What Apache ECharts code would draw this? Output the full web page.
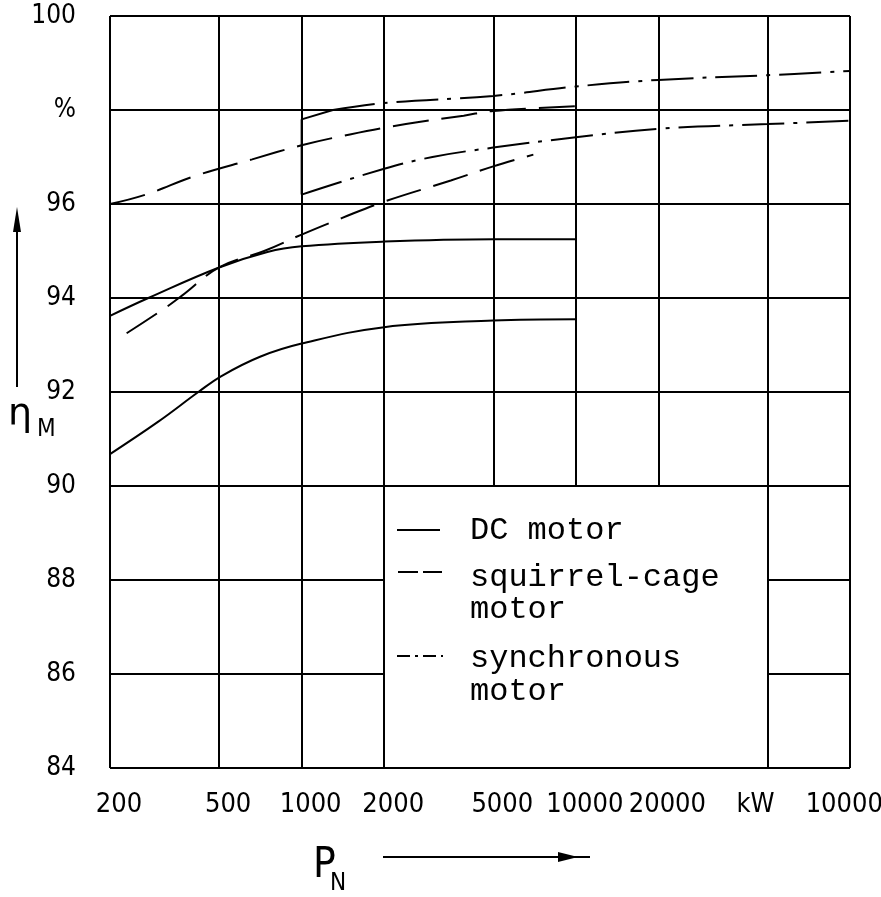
<!DOCTYPE html>
<html>
<head>
<meta charset="utf-8">
<script src="https://cdn.jsdelivr.net/npm/echarts@6/dist/echarts.min.js"></script>
<style>
html,body{margin:0;padding:0;background:#fff;}
#chart{width:881px;height:897px;}
</style>
</head>
<body>
<div id="chart"></div>
<script>
// ---- axes ----
const kWTicks = [200, 500, 1000, 2000, 5000, 10000, 20000, 50000, 100000];
const kWTickLabels = ['200', '500', '1000', '2000', '5000', '10000', '20000', 'kW', '100000'];
const etaTicks = [84, 86, 88, 90, 92, 94, 96, 98, 100];
const etaTickLabels = ['84', '86', '88', '90', '92', '94', '96', '%', '100'];
// region of the plot left free of grid lines for the legend
const legendBoxKW = [2000, 50000];
const legendBoxEta = [84, 90];

// ---- DC motor (solid), upper and lower bound ----
const dcUpperKW  = [200, 276, 500, 750, 1000, 2000, 5000, 10000];
const dcUpperEta = [93.62, 94.0, 94.65, 94.98, 95.1, 95.2, 95.25, 95.25];
const dcLowerKW  = [200, 300, 420, 510, 705, 1000, 2000, 5000, 10000];
const dcLowerEta = [90.68, 91.37, 92.0, 92.34, 92.75, 93.03, 93.38, 93.52, 93.55];

// ---- squirrel-cage motor (dashed) ----
const scUpperKW  = [200, 270, 410, 660, 1000, 1500, 2400, 3900, 5000, 10000];
const scUpperEta = [96.0, 96.2, 96.6, 96.95, 97.25, 97.48, 97.7, 97.88, 97.98, 98.08];
const scLowerKW  = [230, 320, 366, 500, 730, 1000, 1400, 2000, 3500, 5000, 7000];
const scLowerEta = [93.25, 93.8, 94.05, 94.65, 95.0, 95.35, 95.7, 96.05, 96.5, 96.8, 97.05];

// ---- synchronous motor (dash-dot) ----
const smStartKW  = [1000, 1000, 1300];
const smStartEta = [96.2, 97.8, 98.0];
const smUpperKW  = [1300, 2000, 5000, 10000, 20000, 50000, 100000];
const smUpperEta = [98.0, 98.15, 98.3, 98.5, 98.64, 98.74, 98.83];
const smLowerKW  = [1000, 2000, 3000, 5000, 10000, 20000, 50000, 100000];
const smLowerEta = [96.2, 96.75, 97.0, 97.2, 97.42, 97.6, 97.7, 97.77];

const zip = (xs, ys) => xs.map((x, i) => [x, ys[i]]);
const kWMin = kWTicks[0], kWMax = kWTicks[kWTicks.length - 1];
const etaMin = etaTicks[0], etaMax = etaTicks[etaTicks.length - 1];

const numFont = "'Liberation Sans Narrow', 'DejaVu Sans Condensed', 'Liberation Sans', sans-serif";
const monoFont = "'Liberation Mono', 'DejaVu Sans Mono', monospace";
const SOLID = 'solid';
const DASH = [36, 13];
const DASHDOT = [42, 9, 4, 9];

// grid line segments
const gridSegs = [];
kWTicks.forEach(x => {
  const inBox = x > legendBoxKW[0] && x < legendBoxKW[1];
  gridSegs.push([{ coord: [x, inBox ? legendBoxEta[1] : etaMin] }, { coord: [x, etaMax] }]);
});
etaTicks.forEach(y => {
  if (y > legendBoxEta[0] && y < legendBoxEta[1]) {
    gridSegs.push([{ coord: [kWMin, y] }, { coord: [legendBoxKW[0], y] }]);
    gridSegs.push([{ coord: [legendBoxKW[1], y] }, { coord: [kWMax, y] }]);
  } else {
    gridSegs.push([{ coord: [kWMin, y] }, { coord: [kWMax, y] }]);
  }
});

const labelOffsets = { 'kW': [-12, 0], '100000': [2, 0] };
const tickPoints = kWTicks.map((x, i) => ({
  coord: [x, etaMin],
  name: kWTickLabels[i],
  label: { offset: labelOffsets[kWTickLabels[i]] || [9, 0] }
}));

function curve(name, xs, ys, type, smooth) {
  return {
    name: name, type: 'line', data: zip(xs, ys),
    showSymbol: false, symbol: 'none',
    smooth: smooth === false ? false : 0.4,
    lineStyle: { color: '#000', width: 2, type: type },
    z: 3, animation: false, silent: true
  };
}

const chart = echarts.init(document.getElementById('chart'), null, { renderer: 'canvas' });
chart.setOption({
  backgroundColor: '#fff',
  animation: false,
  grid: { left: 110, right: 31, top: 16, bottom: 129 },
  xAxis: {
    type: 'log', logBase: 10, min: kWMin, max: kWMax,
    axisLine: { show: false }, axisTick: { show: false },
    axisLabel: { show: false }, splitLine: { show: false }
  },
  yAxis: {
    type: 'value', min: etaMin, max: etaMax, interval: 2,
    axisLine: { show: false }, axisTick: { show: false },
    splitLine: { show: false },
    axisLabel: {
      margin: 34, color: '#000', fontSize: 26, fontFamily: numFont,
      formatter: v => etaTickLabels[etaTicks.indexOf(v)]
    }
  },
  series: [
    {
      name: 'grid', type: 'line', data: [], silent: true, animation: false,
      markLine: {
        silent: true, animation: false, symbol: ['none', 'none'],
        label: { show: false },
        lineStyle: { color: '#000', width: 2, type: 'solid' },
        emphasis: { disabled: true },
        data: gridSegs
      },
      markPoint: {
        silent: true, animation: false, symbol: 'circle', symbolSize: 0,
        itemStyle: { color: 'rgba(0,0,0,0)' },
        label: {
          show: true, position: 'bottom', distance: 23, formatter: '{b}',
          color: '#000', fontSize: 27, fontFamily: numFont
        },
        data: tickPoints
      }
    },
    curve('DC motor', dcUpperKW, dcUpperEta, SOLID),
    curve('DC motor', dcLowerKW, dcLowerEta, SOLID),
    curve('squirrel-cage motor', scUpperKW, scUpperEta, DASH),
    curve('squirrel-cage motor', scLowerKW, scLowerEta, DASH),
    curve('synchronous motor', smStartKW, smStartEta, SOLID, false),
    curve('synchronous motor', smUpperKW, smUpperEta, DASHDOT),
    curve('synchronous motor', smLowerKW, smLowerEta, DASHDOT)
  ],
  graphic: [
    // legend samples
    { type: 'line', shape: { x1: 397, y1: 530, x2: 440, y2: 530 }, style: { stroke: '#000', lineWidth: 2 } },
    { type: 'line', shape: { x1: 398, y1: 572, x2: 442, y2: 572 }, style: { stroke: '#000', lineWidth: 2, lineDash: [20, 5] } },
    { type: 'line', shape: { x1: 397, y1: 656, x2: 443, y2: 656 }, style: { stroke: '#000', lineWidth: 2, lineDash: [13, 5, 3, 5] } },
    { type: 'text', style: { text: 'DC motor', x: 470, y: 531, font: '32px ' + monoFont, fill: '#000', textVerticalAlign: 'middle', verticalAlign: 'middle' } },
    { type: 'text', style: { text: 'squirrel-cage', x: 470, y: 578, font: '32px ' + monoFont, fill: '#000', textVerticalAlign: 'middle', verticalAlign: 'middle' } },
    { type: 'text', style: { text: 'motor', x: 470, y: 610, font: '32px ' + monoFont, fill: '#000', textVerticalAlign: 'middle', verticalAlign: 'middle' } },
    { type: 'text', style: { text: 'synchronous', x: 470, y: 659, font: '32px ' + monoFont, fill: '#000', textVerticalAlign: 'middle', verticalAlign: 'middle' } },
    { type: 'text', style: { text: 'motor', x: 470, y: 692, font: '32px ' + monoFont, fill: '#000', textVerticalAlign: 'middle', verticalAlign: 'middle' } },
    // y axis name with arrow
    { type: 'line', shape: { x1: 17, y1: 387, x2: 17, y2: 215 }, style: { stroke: '#000', lineWidth: 2 } },
    { type: 'polygon', shape: { points: [[17, 207], [13, 232], [21, 232]] }, style: { fill: '#000' } },
    { type: 'text', style: { text: 'η', x: 8, y: 396, font: '38px "DejaVu Sans", sans-serif', fill: '#000', textVerticalAlign: 'top', verticalAlign: 'top' } },
    { type: 'text', style: { text: 'M', x: 37, y: 418, font: '24px ' + numFont, fill: '#000', textVerticalAlign: 'top', verticalAlign: 'top' } },
    // x axis name with arrow
    { type: 'text', style: { text: 'P', x: 313, y: 845, font: '42px ' + numFont, fill: '#000', textVerticalAlign: 'top', verticalAlign: 'top' } },
    { type: 'text', style: { text: 'N', x: 330, y: 872, font: '24px ' + numFont, fill: '#000', textVerticalAlign: 'top', verticalAlign: 'top' } },
    { type: 'line', shape: { x1: 383, y1: 857, x2: 590, y2: 857 }, style: { stroke: '#000', lineWidth: 2 } },
    { type: 'polygon', shape: { points: [[578, 857], [558, 852], [558, 862]] }, style: { fill: '#000' } }
  ]
});
</script>
</body>
</html>
